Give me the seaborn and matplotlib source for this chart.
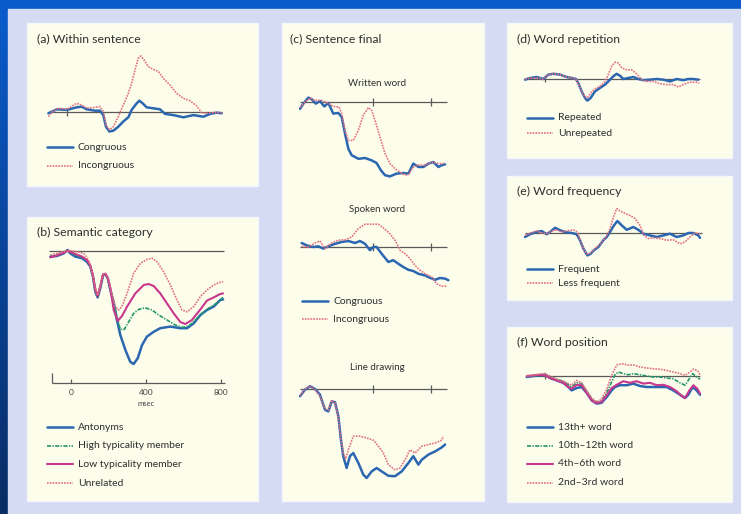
import numpy as np
import matplotlib
matplotlib.use("Agg")
import matplotlib.pyplot as plt
from matplotlib.patches import Rectangle
import seaborn as sns

# ERP waveforms, time in ms, amplitude in uV (negative plotted up)
A_CONG_T = [-98, -54, 0, 51, 77, 104, 147, 174, 191, 205, 223, 244, 270, 296, 323, 340, 367, 381, 398, 419,
            454, 489, 516, 560, 612, 665, 718, 753, 788, 814]
A_CONG_V = [0.25, -0.75, -0.6, -1.25, -1.4, -0.75, -0.4, -0.4, 0.7, 3.6, 4.8, 4.6, 3.6, 2.3, 1.25, -0.6, -2.25,
            -2.9, -2.25, -1.25, -1.0, -0.75, 0.4, 0.7, 1.25, 0.7, 1.1, 0.4, 0.1, 0.25]
A_INC_T = [-98, -72, -46, 0, 51, 77, 104, 147, 174, 191, 205, 223, 244, 270, 296, 323, 340, 358, 375, 388,
           405, 428, 454, 481, 507, 542, 577, 612, 647, 682, 709, 735, 770, 814]
A_INC_V = [1.1, -0.4, -1.0, -0.75, -2.25, -1.8, -1.0, -1.25, -1.4, -0.2, 3.2, 4.4, 3.6, 1.1, -1.8, -4.75, -7.25,
           -10.6, -13.5, -14.1, -13.1, -11.4, -10.75, -10.2, -8.5, -6.8, -4.75, -3.5, -2.9, -1.6, 0.1, 0.25,
           0.1, 0.1]

B_ANT_T = [-110, -75, -39, -18, -4, 23, 59, 85, 103, 117, 130, 142, 156, 171, 183, 196, 210, 228, 245, 263,
           290, 316, 334, 356, 379, 405, 441, 476, 530, 583, 619, 654, 690, 725, 761, 796, 811]
B_ANT_V = [1.4, 1.25, 0.6, -0.25, 0.6, 1.4, 1.8, 2.7, 3.9, 6.4, 10.2, 11.6, 9.3, 6.0, 5.75, 6.8, 9.75, 13.1,
           17.25, 21, 24.75, 27.7, 28.25, 26.8, 23.5, 21.4, 20.2, 19.3, 18.9, 19.3, 19.3, 18.1, 16, 14.75, 13.9,
           12.25, 12.1]
B_HIGH_T = [-110, -75, -39, -18, -4, 23, 59, 85, 103, 117, 130, 142, 156, 171, 183, 196, 210, 228, 245, 263,
            284, 308, 334, 361, 396, 432, 468, 512, 556, 592, 628, 663, 699, 734, 770, 811]
B_HIGH_V = [1.4, 1.0, 0.4, -0.1, 0.4, 1.0, 1.6, 2.4, 3.75, 6.25, 10, 11.4, 9.2, 6.0, 5.8, 6.8, 9.6, 12.75,
            16.4, 19.6, 19.6, 17.7, 15.6, 14.6, 14.2, 14.75, 16, 17.25, 18.5, 19.1, 18.75, 17.25, 15.6, 14.3,
            13.25, 11.6]
B_LOW_T = [-110, -75, -39, -18, -4, 23, 59, 85, 103, 117, 130, 142, 156, 171, 183, 196, 210, 228, 249, 272,
           299, 343, 388, 414, 441, 476, 512, 548, 583, 610, 645, 690, 725, 761, 796, 811]
B_LOW_V = [1.6, 1.1, 0.4, -0.1, 0.25, 0.75, 1.4, 2.25, 3.6, 6.1, 9.75, 11.25, 8.9, 5.8, 5.75, 6.7, 9.3, 14.75,
           17.5, 16.25, 13.9, 10.6, 8.5, 8.25, 8.75, 10.6, 13.1, 15.6, 17.75, 18.25, 17.25, 14.6, 12.4, 11.6,
           10.75, 10.6]
B_UNREL_T = [-110, -75, -39, -4, 32, 68, 94, 112, 130, 142, 156, 171, 183, 196, 213, 236, 254, 272, 299, 334,
             370, 405, 432, 459, 494, 530, 565, 592, 619, 654, 690, 725, 761, 796, 811]
B_UNREL_V = [1, 0.6, 0.17, -0.1, 0.17, 0.6, 2.25, 5.2, 9.3, 11, 8.75, 5.75, 5.6, 6.4, 9.75, 13.9, 14.75, 13.9,
             10.6, 5.6, 3.1, 2.1, 1.8, 2.7, 5.2, 8.5, 12.25, 14.75, 15.2, 13.9, 11.4, 9.75, 8.5, 7.8, 7.7]

CW_CONG_T = [-103, -80, -46, -23, 5, 34, 64, 92, 126, 161, 184, 207, 230, 253, 299, 345, 391, 425, 455, 483,
             517, 563, 609, 644, 678, 713, 747, 782, 816, 851, 874, 897]
CW_CONG_V = [1.7, 0.4, -1.1, -0.7, 0.4, -0.25, 1.1, 0.25, 2.9, 2.75, 3.75, 7.9, 11.7, 13.3, 14.2, 14, 14.6,
             15.25, 17.1, 18.3, 18.6, 17.9, 17.75, 17.9, 15.4, 16.25, 16.25, 15.4, 15, 16.25, 15.8, 15.6]
CW_INC_T = [-103, -69, -34, 0, 46, 92, 126, 166, 184, 207, 230, 264, 299, 333, 368, 391, 414, 448, 483, 517,
            552, 586, 621, 644, 678, 713, 759, 805, 851, 897]
CW_INC_V = [1.4, 0, -1, -0.4, -0.4, 0.25, 1.1, 1.25, 2.9, 7.1, 9.6, 9.6, 7.1, 3.3, 1.4, 2.1, 4.6, 8.75, 12.9,
            15.4, 16.7, 17.5, 18.3, 18.1, 16.25, 15.8, 15.8, 15, 15.4, 15.4]
CS_CONG_T = [-92, -57, -11, 23, 57, 92, 138, 184, 230, 276, 310, 345, 379, 402, 425, 460, 506, 540, 575, 609,
             644, 678, 713, 759, 793, 828, 862, 897, 920]
CS_CONG_V = [-1, -0.4, 0, -0.17, 0.4, -0.17, -0.8, -1.25, -1.5, -1, -1.5, -0.8, 0.8, 0, 0, 1.7, 3.75, 3.3,
             4.2, 5, 5.7, 6, 6.7, 7.1, 7.7, 8.2, 7.75, 7.9, 8.3]
CS_INC_T = [-92, -46, 0, 34, 69, 115, 161, 207, 253, 299, 345, 391, 437, 471, 517, 552, 586, 621, 655, 690,
            724, 759, 805, 839, 874, 908]
CS_INC_V = [-0.17, 0, -1, -1.5, 0.4, -1, -1.7, -1.8, -2.5, -4.6, -5.7, -5.7, -5.7, -4.8, -3.3, -1.7, 0.8, 1.7,
            2.9, 4.6, 5.8, 6.7, 7.5, 9.2, 9.8, 9.8]
CL_CONG_T = [-103, -69, -34, 0, 34, 69, 92, 115, 138, 161, 179, 195, 218, 241, 264, 299, 333, 356, 391, 425,
             460, 506, 552, 598, 644, 678, 713, 736, 782, 828, 874, 897]
CL_CONG_V = [1.8, 0.17, -0.7, 0, 1.4, 5.2, 5.6, 3.1, 3.3, 6.8, 12.7, 16.8, 19.75, 16.8, 16, 18.5, 21.4, 22.25,
             20.6, 19.75, 20.6, 21.7, 21.8, 20.6, 18.5, 16.8, 18.9, 17.7, 16.4, 15.6, 14.6, 13.9]
CL_INC_T = [-103, -69, -34, 0, 34, 69, 92, 115, 138, 161, 179, 195, 211, 230, 264, 310, 356, 402, 437, 471,
            506, 552, 586, 621, 655, 690, 736, 782, 828, 874, 885]
CL_INC_V = [1.7, 0, -0.7, 0.17, 1.7, 5, 5.3, 2.8, 3.5, 7.25, 12.7, 16, 17.5, 15.2, 11.8, 11.8, 12.25, 12.8,
            14.3, 16, 18.9, 20.2, 19.75, 17.7, 15.2, 16, 14.3, 13.9, 13.5, 12.8, 11.8]

D_REP_T = [-105, -79, -44, -9, 18, 44, 79, 114, 140, 163, 175, 193, 211, 223, 240, 263, 289, 316, 342, 360,
           377, 395, 412, 439, 465, 491, 518, 553, 588, 623, 658, 693, 728, 754, 781, 807]
D_REP_V = [0.17, -0.25, -0.5, 0, -1.1, -1.3, -1.1, -0.5, -0.25, 0, 1, 3.1, 4.75, 5.4, 4.75, 3.1, 2.25, 1.4,
           0.17, -0.7, -1.3, -0.8, 0, -0.25, -0.5, 0, 0.3, 0.17, 0, 0.17, 0.6, 0, 0.3, 0, 0, 0.17]
D_UNREP_T = [-105, -79, -44, -9, 18, 44, 79, 114, 140, 163, 175, 193, 211, 223, 240, 263, 289, 316, 333, 351,
             368, 386, 404, 430, 456, 482, 509, 535, 570, 605, 640, 675, 702, 728, 763, 798, 812]
D_UNREP_V = [0, -0.25, -0.25, 0, -1.1, -1.3, -1.1, -0.5, -0.25, 0, 1.2, 3.1, 4.5, 4.75, 3.5, 2.5, 1.8, 0.6,
             -1.1, -3.2, -4.2, -4, -2.75, -2.3, -2.3, -1.3, 0.17, 0.6, 0.6, 1.2, 1.4, 1.4, 2, 1.4, 0.8, 0.8, 1]

E_FREQ_T = [-105, -79, -44, -18, 9, 26, 53, 79, 105, 140, 167, 184, 202, 223, 240, 258, 281, 307, 325, 342,
            360, 381, 404, 430, 465, 491, 518, 553, 588, 623, 658, 693, 728, 754, 781, 807, 816]
E_FREQ_V = [1, 0.3, -0.25, -0.5, 0.3, -0.25, -1.3, -0.7, -0.25, 0, 0.3, 1.8, 3.9, 5.6, 5.2, 4.3, 3.5, 1.8, 1,
            -0.25, -1.7, -3, -1.9, -0.8, -1.5, -0.8, 0.17, 0.6, 1, 0.6, 0.17, 1, 0.6, 0, 0, 0.6, 1.2]
E_LESS_T = [-105, -79, -44, -18, 9, 35, 61, 88, 114, 149, 170, 188, 205, 223, 240, 263, 289, 316, 339, 360,
            377, 395, 416, 447, 474, 500, 521, 544, 570, 605, 640, 675, 711, 737, 763, 789, 816]
E_LESS_V = [0.6, 0, -0.5, 0, 0.17, -0.5, -0.8, -0.25, -0.5, -0.8, -0.25, 2.25, 4.3, 5.3, 5, 3.9, 2.8, 1.4,
            -0.7, -4, -6.1, -5.5, -5, -4.4, -3.6, -1.9, 0.6, 1.4, 1.2, 1.4, 1.8, 1.7, 2.7, 2.25, 1, 0, 0.17]

F_13_T = [-96, -61, -26, 0, 26, 61, 96, 123, 140, 167, 193, 219, 246, 272, 298, 325, 351, 368, 395, 430, 465,
          500, 535, 570, 605, 640, 675, 711, 737, 754, 777, 798, 816]
F_13_V = [0.25, 0, -0.17, -0.3, 0.5, 1.1, 1.7, 2.75, 3.6, 3, 2.75, 4.2, 6.1, 6.9, 6.7, 5.25, 3.6, 2.75, 2.3,
          2.3, 1.9, 2.5, 2.75, 2.75, 2.75, 2.75, 3.6, 4.7, 5.5, 4.7, 2.75, 3.6, 4.7]
F_10_T = [-96, -61, -26, 0, 26, 61, 96, 123, 140, 167, 193, 219, 246, 272, 298, 325, 351, 368, 386, 412, 439,
          465, 500, 535, 570, 605, 640, 675, 711, 737, 754, 777, 798, 816]
F_10_V = [0, 0, -0.3, -0.3, 0.25, 0.8, 1.3, 2.2, 2.75, 1.7, 1.9, 3.8, 5.7, 6.5, 6.1, 4.2, 1.5, -0.3, -1, -0.6,
          -0.3, -0.6, -0.3, 0, 0.25, 0.25, 0.5, 0.7, 1.7, 2.3, 1.1, -0.6, 0.25, 0.8]
F_4_T = [-96, -61, -26, 0, 26, 61, 96, 123, 140, 167, 193, 219, 246, 272, 298, 325, 351, 377, 412, 447, 482,
         518, 553, 588, 623, 658, 693, 719, 737, 760, 781, 802, 816]
F_4_V = [0, -0.17, -0.3, -0.17, 0.5, 1.1, 1.7, 2.75, 3.2, 2.2, 2.3, 4.2, 6.1, 6.75, 6.5, 4.8, 3, 2.2, 1.3, 1.7,
         1.3, 1.9, 1.7, 2.3, 2.2, 2.75, 3.8, 5, 5.5, 3.6, 2.3, 3.2, 4.4]
F_2_T = [-96, -61, -26, 0, 26, 61, 96, 123, 140, 167, 193, 219, 246, 272, 298, 325, 351, 377, 404, 439, 465,
         500, 535, 570, 605, 640, 675, 711, 737, 763, 781, 802, 816]
F_2_V = [0, -0.17, -0.5, -0.6, 0, 0.8, 1.3, 1.9, 2.3, 1.1, 1.7, 3.6, 5.5, 6.5, 5.8, 3.2, -0.17, -2.7, -3.1,
         -2.7, -2.8, -2.25, -2, -1.8, -1.7, -1.4, -1, -0.6, -0.17, -1, -1.7, -1.4, -0.3]

B_TICKS = [0, 400, 800]

W, H = 741, 514
PX_PER_UV = 4.0

BLUE = "#2b67b0"
RED = "#e2707f"
MAGENTA = "#c7378c"
GREEN = "#22976c"
BASE = "#5a5a5a"
TEXT = "#2e2e2e"
CREAM = "#fdfdec"
LAVENDER = "#d5dbf3"

STYLES = {
    "blue": dict(color=BLUE, lw=1.8, ls="-"),
    "red": dict(color=RED, lw=1.2, ls=(0, (1, 0.7))),
    "magenta": dict(color=MAGENTA, lw=1.5, ls="-"),
    "green": dict(color=GREEN, lw=1.2, ls=(0, (2.5, 0.8, 0.8, 0.8))),
}


def wave_axes(fig, box, zero_x, px_per_ms, base_y):
    left, top, right, bottom = box
    ax = fig.add_axes([left / W, 1 - bottom / H, (right - left) / W, (bottom - top) / H])
    ax.patch.set_alpha(0)
    return ax, ((left - zero_x) / px_per_ms, (right - zero_x) / px_per_ms), \
        ((bottom - base_y) / PX_PER_UV, (top - base_y) / PX_PER_UV)


def finish(ax, xlim, ylim):
    ax.set_xlim(*xlim)
    ax.set_ylim(*ylim)
    ax.axis("off")


def curve(ax, t, v, style):
    s = STYLES[style]
    sns.lineplot(x=t, y=v, ax=ax, color=s["color"], lw=s["lw"], linestyle=s["ls"],
                 clip_on=False, errorbar=None)


def baseline(ax, t0, t1, ticks=(), tick_h=1.0):
    ax.hlines(0, t0, t1, color=BASE, lw=0.9, zorder=1)
    if ticks:
        ax.vlines(ticks, -tick_h, tick_h, color=BASE, lw=0.9, zorder=1)


def legend(ov, x, y0, dy, items):
    for i, (label, style) in enumerate(items):
        s = STYLES[style]
        y = y0 + i * dy
        ov.plot([x, x + 26], [y, y], color=s["color"], lw=s["lw"], linestyle=s["ls"])
        ov.text(x + 31, y, label, fontsize=7.5, color=TEXT, va="center", ha="left")


sns.set_theme(style="white")
plt.rcParams["font.family"] = ["Lato", "DejaVu Sans"]

fig = plt.figure(figsize=(W / 100, H / 100), dpi=100)

# background overlay in pixel coordinates
ov = fig.add_axes([0, 0, 1, 1])
ov.set_xlim(0, W)
ov.set_ylim(H, 0)
ov.axis("off")
grad = np.linspace(0, 1, 256).reshape(-1, 1)
top_c = np.array([10, 92, 205]) / 255
bot_c = np.array([8, 44, 100]) / 255
img = top_c[None, None, :] * (1 - grad[:, :, None]) + bot_c[None, None, :] * grad[:, :, None]
ov.imshow(img, extent=[0, W, H, 0], aspect="auto", zorder=0)
ov.add_patch(Rectangle((8, 9), W - 8, H - 9, color=LAVENDER, zorder=1))
for (x0, y0, x1, y1) in [(27, 23, 258, 186), (27, 217, 258, 501), (282, 23, 484, 501),
                         (507, 23, 732, 158), (507, 176, 732, 300), (507, 327, 732, 502)]:
    ov.add_patch(Rectangle((x0, y0), x1 - x0, y1 - y0, facecolor=CREAM, edgecolor="#f4f6fb",
                           lw=1.0, zorder=2))

titles = [(37, 39, "(a) Within sentence"), (37, 232, "(b) Semantic category"),
          (290, 39, "(c) Sentence final"), (517, 39, "(d) Word repetition"),
          (517, 191, "(e) Word frequency"), (517, 342, "(f) Word position")]
for x, y, s in titles:
    ov.text(x, y, s, fontsize=8.8, color=TEXT, va="center", ha="left", zorder=3)

for y, s in [(83, "Written word"), (210, "Spoken word"), (368, "Line drawing")]:
    ov.text(377, y, s, fontsize=7, color=TEXT, va="center", ha="center", zorder=3)

legend(ov, 47, 147, 19, [("Congruous", "blue"), ("Incongruous", "red")])
legend(ov, 47, 427, 18.7, [("Antonyms", "blue"), ("High typicality member", "green"),
                           ("Low typicality member", "magenta"), ("Unrelated", "red")])
legend(ov, 302, 301, 18, [("Congruous", "blue"), ("Incongruous", "red")])
legend(ov, 527, 118, 15, [("Repeated", "blue"), ("Unrepeated", "red")])
legend(ov, 527, 269, 14, [("Frequent", "blue"), ("Less frequent", "red")])
legend(ov, 527, 427, 18.5, [("13th+ word", "blue"), ("10th\u201312th word", "green"),
                            ("4th\u20136th word", "magenta"), ("2nd\u20133rd word", "red")])

# (a) within sentence
ax, xl, yl = wave_axes(fig, (30, 50, 255, 180), 67, 0.19, 112.3)
baseline(ax, -100, 816, [0], 1.0)
curve(ax, A_CONG_T, A_CONG_V, "blue")
curve(ax, A_INC_T, A_INC_V, "red")
finish(ax, xl, yl)

# (b) semantic category
ax, xl, yl = wave_axes(fig, (30, 240, 255, 410), 71, 0.1875, 251)
baseline(ax, -117, 816)
curve(ax, B_ANT_T, B_ANT_V, "blue")
curve(ax, B_HIGH_T, B_HIGH_V, "green")
curve(ax, B_LOW_T, B_LOW_V, "magenta")
curve(ax, B_UNREL_T, B_UNREL_V, "red")
ax_y = 33
ax.hlines(ax_y, -101, 821, color=BASE, lw=0.9)
ax.vlines([-101], ax_y - 2.5, ax_y, color=BASE, lw=0.9)
ax.vlines(B_TICKS, ax_y - 0.9, ax_y, color=BASE, lw=0.9)
for tk in B_TICKS:
    ax.text(tk, ax_y + 2.3, str(tk), fontsize=6, color="#444444", ha="center", va="center")
ax.text(400, ax_y + 5.0, "msec", fontsize=5.5, color="#444444", ha="center", va="center")
finish(ax, xl, yl)

# (c) sentence final, three modalities
for base_y, box, cong, inc, ticks in [
        (102, (285, 90, 480, 200), (CW_CONG_T, CW_CONG_V), (CW_INC_T, CW_INC_V), [400, 800]),
        (247, (285, 215, 480, 290), (CS_CONG_T, CS_CONG_V), (CS_INC_T, CS_INC_V), [400, 800]),
        (389, (285, 375, 480, 495), (CL_CONG_T, CL_CONG_V), (CL_INC_T, CL_INC_V), [400, 800])]:
    ax, xl, yl = wave_axes(fig, box, 315, 0.145, base_y)
    baseline(ax, -103, 910, ticks, 0.9)
    curve(ax, cong[0], cong[1], "blue")
    curve(ax, inc[0], inc[1], "red")
    finish(ax, xl, yl)

# (d) word repetition
ax, xl, yl = wave_axes(fig, (510, 45, 720, 110), 545, 0.19, 79)
baseline(ax, -105, 816, [0], 0.8)
curve(ax, D_REP_T, D_REP_V, "blue")
curve(ax, D_UNREP_T, D_UNREP_V, "red")
finish(ax, xl, yl)

# (e) word frequency
ax, xl, yl = wave_axes(fig, (510, 195, 720, 260), 545, 0.19, 233)
baseline(ax, -105, 826)
curve(ax, E_FREQ_T, E_FREQ_V, "blue")
curve(ax, E_LESS_T, E_LESS_V, "red")
finish(ax, xl, yl)

# (f) word position
ax, xl, yl = wave_axes(fig, (510, 350, 720, 410), 545, 0.19, 376)
baseline(ax, -95, 816, [0], 0.8)
curve(ax, F_13_T, F_13_V, "blue")
curve(ax, F_10_T, F_10_V, "green")
curve(ax, F_4_T, F_4_V, "magenta")
curve(ax, F_2_T, F_2_V, "red")
finish(ax, xl, yl)

fig.savefig("out.png", dpi=100)
